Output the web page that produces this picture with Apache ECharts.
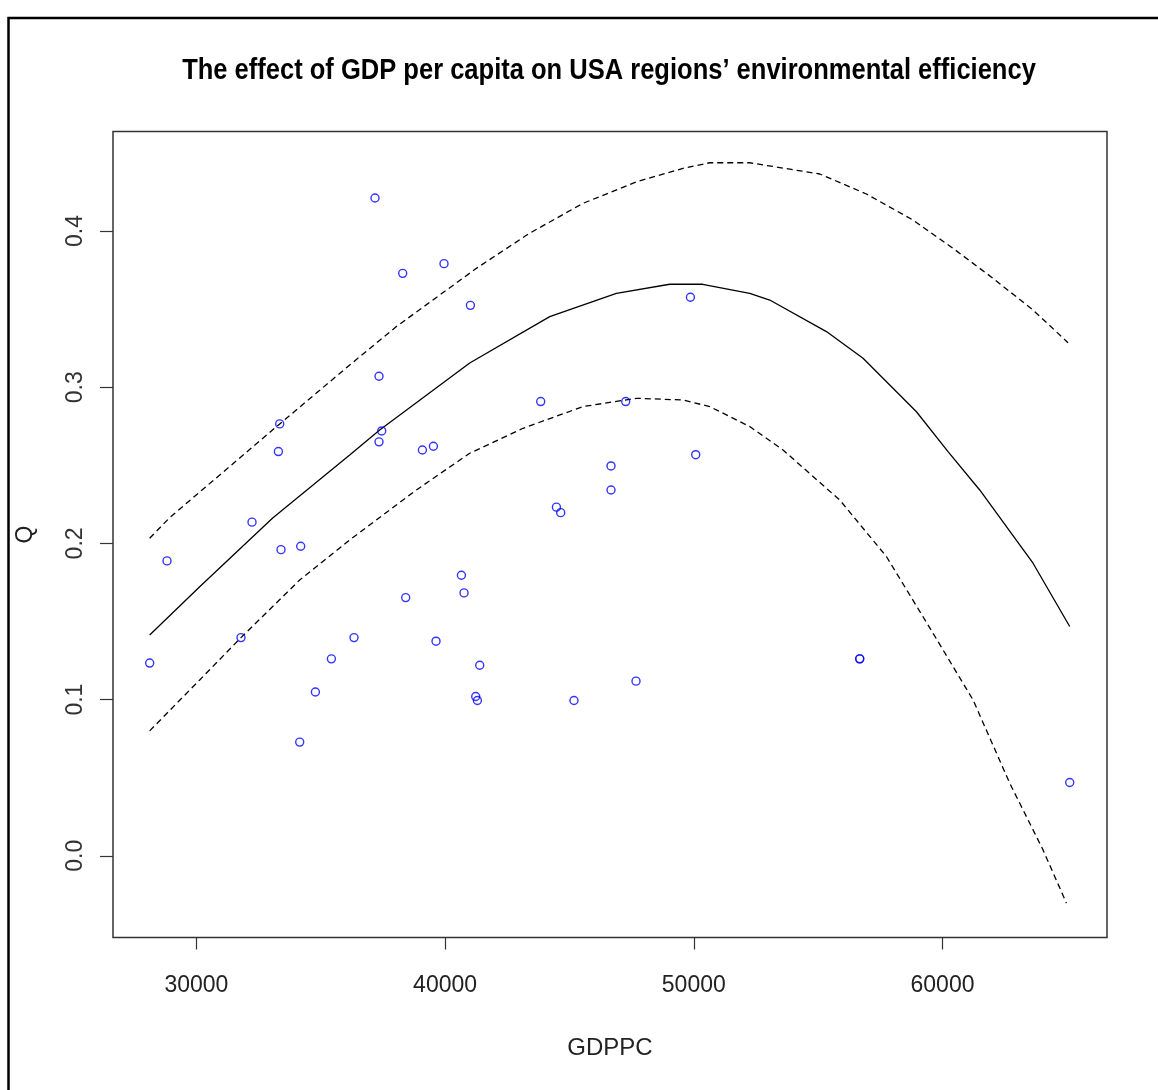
<!DOCTYPE html>
<html>
<head>
<meta charset="utf-8">
<script src="https://cdn.jsdelivr.net/npm/echarts@6/dist/echarts.min.js"></script>
<style>
html,body{margin:0;padding:0;background:#fff;}
#chart{width:1158px;height:1090px;}
</style>
</head>
<body>
<div id="chart"></div>
<script>
// Observed points
var gdppc = [28122, 28818, 31793, 32236, 33297, 33350, 33402, 34154, 34194, 34785, 35428, 36337,
  37182, 37343, 37343, 37451, 38295, 38416, 39087, 39530, 39635, 39956, 40656, 40761, 41018,
  41231, 41299, 41392, 43844, 44476, 44648, 45183, 46671, 46671, 47262, 47676, 49864, 50077,
  56671, 56671, 65115];
var q = [0.1234, 0.1888, 0.1397, 0.2136, 0.2588, 0.2765, 0.1960, 0.0728, 0.1982, 0.1049, 0.1261, 0.1397,
  0.4211, 0.3070, 0.2650, 0.2720, 0.3729, 0.1653, 0.2598, 0.2622, 0.1374, 0.3791, 0.1796, 0.1683, 0.3524,
  0.1020, 0.0994, 0.1220, 0.2908, 0.2232, 0.2197, 0.0994, 0.2496, 0.2342, 0.2908, 0.1118, 0.3576, 0.2568,
  0.1261, 0.1261, 0.0469];

// Fitted curve
var fitX = [28122, 30133, 33068, 36164, 37370, 40990, 44207, 46888, 49032, 50359, 52249, 53053,
  55333, 56805, 58952, 60222, 61496, 63640, 65115];
var fitY = [0.1414, 0.1723, 0.2163, 0.2566, 0.2726, 0.3155, 0.3452, 0.3601, 0.3659, 0.3659, 0.3601, 0.3558,
  0.3356, 0.3185, 0.2843, 0.2588, 0.2342, 0.1873, 0.1468];

// Upper band
var upX = [28122, 28926, 33350, 36164, 38042, 41259, 43390, 45545, 47692, 49566, 50640, 52249,
  55063, 56941, 58815, 60423, 62032, 63640, 65048];
var upY = [0.2033, 0.2165, 0.2765, 0.3142, 0.3388, 0.3761, 0.3985, 0.4177, 0.4315, 0.4401, 0.4437, 0.4437,
  0.4365, 0.4237, 0.4070, 0.3889, 0.3697, 0.3494, 0.3285];

// Lower band
var loX = [28122, 30133, 31793, 34154, 36164, 38846, 40990, 43133, 45545, 47692, 49566, 50640,
  52249, 53587, 55867, 57744, 59619, 61228, 62703, 64042, 64982];
var loY = [0.0800, 0.1126, 0.1397, 0.1766, 0.2022, 0.2342, 0.2577, 0.2737, 0.2876, 0.2929, 0.2918, 0.2876,
  0.2748, 0.2598, 0.2278, 0.1916, 0.1425, 0.0998, 0.0465, 0.0038, -0.0303];

var xTicks = [30000, 40000, 50000, 60000];
var yTicks = [0.0, 0.1, 0.2, 0.3, 0.4];

function pairs(a, b) { return a.map(function (v, i) { return [v, b[i]]; }); }

var FONT = "'Liberation Sans Narrow', 'Arial Narrow', 'Liberation Sans', Arial, sans-serif";

var chart = echarts.init(document.getElementById('chart'), null, {renderer: 'canvas'});
chart.setOption({
  animation: false,
  backgroundColor: '#ffffff',
  grid: {
    left: 113, top: 131.5, width: 994, height: 806,
    show: true, borderColor: '#333333', borderWidth: 1.5, backgroundColor: 'transparent'
  },
  xAxis: {
    type: 'value', min: 26647, max: 66614,
    axisLine: {show: false, onZero: false},
    splitLine: {show: false},
    axisTick: {show: true, inside: false, length: 12, customValues: xTicks,
      lineStyle: {color: '#333333', width: 1.2}},
    axisLabel: {show: true, customValues: xTicks, margin: 37, color: '#222222',
      fontFamily: FONT, fontSize: 23, lineHeight: 23,
      formatter: function (v) { return String(v); }},
    name: 'GDPPC', nameLocation: 'middle', nameGap: 99,
    nameTextStyle: {fontFamily: FONT, fontSize: 24, color: '#222222', lineHeight: 24}
  },
  yAxis: {
    type: 'value', min: -0.0523, max: 0.4637,
    axisLine: {show: false, onZero: false},
    splitLine: {show: false},
    axisTick: {show: true, inside: false, length: 13, customValues: yTicks,
      lineStyle: {color: '#333333', width: 1.2}},
    axisLabel: {show: true, customValues: yTicks, rotate: 90, margin: 26, color: '#333333',
      fontFamily: FONT, fontSize: 23, lineHeight: 23,
      formatter: function (v) { return Number(v).toFixed(1); }},
    name: 'Q', nameLocation: 'middle', nameGap: 76, nameRotate: 90,
    nameTextStyle: {fontFamily: FONT, fontSize: 23, color: '#222222', lineHeight: 23}
  },
  graphic: [
    {type: 'rect', shape: {x: 8.5, y: 18, width: 1300, height: 1300},
      style: {fill: 'none', stroke: '#000000', lineWidth: 2.5}, silent: true},
    {type: 'text', x: 609, y: 71, scaleX: 0.88,
      style: {text: 'The effect of GDP per capita on USA regions\u2019 environmental efficiency',
        textAlign: 'center', textVerticalAlign: 'middle',
        font: "bold 29px " + FONT, fill: '#000000'}}
  ],
  series: [
    {type: 'line', data: pairs(upX, upY), showSymbol: false, symbol: 'none', smooth: false,
      lineStyle: {color: '#000000', width: 1.3, type: [6, 4]}, z: 2},
    {type: 'line', data: pairs(loX, loY), showSymbol: false, symbol: 'none', smooth: false,
      lineStyle: {color: '#000000', width: 1.3, type: [6, 4]}, z: 2},
    {type: 'line', data: pairs(fitX, fitY), showSymbol: false, symbol: 'none', smooth: false,
      lineStyle: {color: '#000000', width: 1.3, type: 'solid'}, z: 2},
    {type: 'scatter', data: pairs(gdppc, q), symbol: 'circle', symbolSize: 8,
      itemStyle: {color: 'rgba(0,0,0,0)', borderColor: '#0000ff', borderWidth: 1.4}, z: 3}
  ]
});
</script>
</body>
</html>
